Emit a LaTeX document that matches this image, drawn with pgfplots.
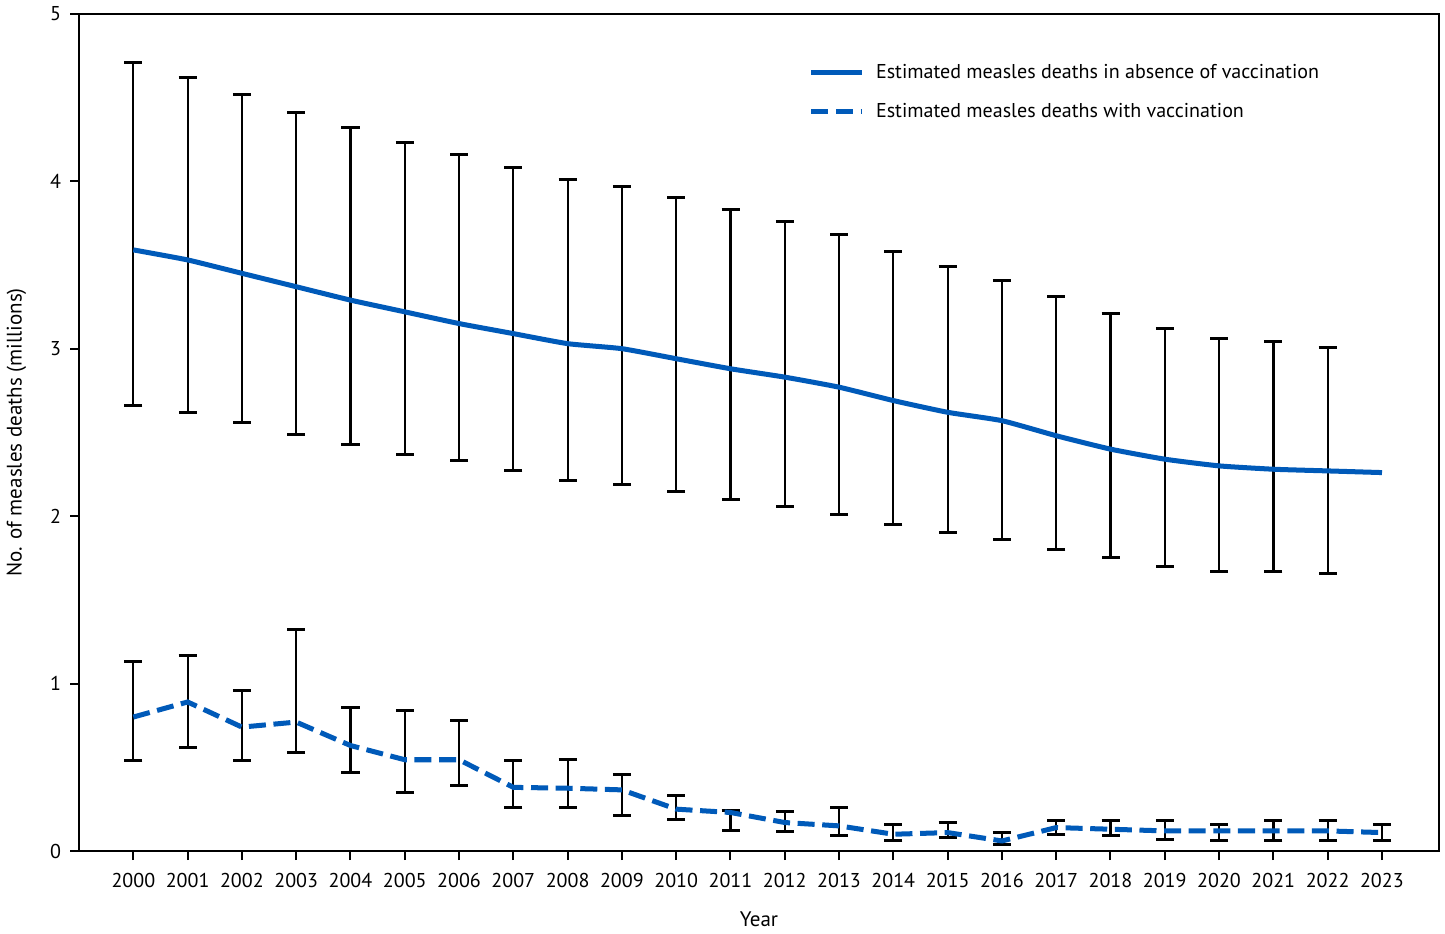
\documentclass[border=0pt]{standalone}
\usepackage{fontspec}
\setmainfont{PT Sans}
\usepackage{pgfplots}
\usepackage{pgfplotstable}
\pgfplotsset{compat=1.18}
\definecolor{cdcblue}{RGB}{0,90,185}
\pgfplotstableread{
x y lo hi
2000 3.59 2.66 4.71
2001 3.53 2.62 4.62
2002 3.45 2.56 4.52
2003 3.37 2.49 4.41
2004 3.29 2.43 4.32
2005 3.22 2.37 4.23
2006 3.15 2.33 4.16
2007 3.09 2.27 4.08
2008 3.03 2.21 4.01
2009 3.00 2.19 3.97
2010 2.94 2.15 3.90
2011 2.88 2.10 3.83
2012 2.83 2.06 3.76
2013 2.77 2.01 3.68
2014 2.69 1.95 3.58
2015 2.62 1.90 3.49
2016 2.57 1.86 3.41
2017 2.48 1.80 3.31
2018 2.40 1.75 3.21
2019 2.34 1.70 3.12
2020 2.30 1.67 3.06
2021 2.28 1.67 3.04
2022 2.27 1.66 3.01
2023 2.26 2.26 2.26
}\novacc
\pgfplotstableread{
x y lo hi
2000 0.80 0.54 1.13
2001 0.89 0.62 1.17
2002 0.74 0.54 0.96
2003 0.77 0.59 1.32
2004 0.63 0.47 0.855
2005 0.545 0.35 0.84
2006 0.545 0.39 0.78
2007 0.38 0.26 0.54
2008 0.375 0.26 0.545
2009 0.365 0.21 0.455
2010 0.25 0.19 0.33
2011 0.23 0.125 0.24
2012 0.17 0.115 0.235
2013 0.15 0.09 0.26
2014 0.10 0.065 0.16
2015 0.11 0.083 0.17
2016 0.06 0.037 0.113
2017 0.14 0.10 0.18
2018 0.13 0.095 0.18
2019 0.12 0.07 0.18
2020 0.12 0.06 0.16
2021 0.12 0.065 0.18
2022 0.12 0.065 0.185
2023 0.11 0.065 0.16
}\vacc
\begin{document}
\begin{tikzpicture}
\begin{axis}[
  scale only axis,
  width=679pt, height=418pt,
  xmin=1999.0, xmax=2024.05,
  ymin=0, ymax=5,
  xtick={2000,...,2023},
  ytick={0,1,2,3,4,5},
  xticklabel style={/pgf/number format/1000 sep={}, yshift=-3pt},
  yticklabel style={xshift=-1pt},
  /pgf/number format/assume math mode=true,
  tick label style={font=\fontsize{10}{12}\selectfont},
  label style={font=\fontsize{10.5}{12}\selectfont},
  tick align=outside,
  xtick pos=bottom, ytick pos=left,
  major tick length=4.5pt,
  tick style={black, line width=1pt},
  axis line style={black, line width=1pt},
  xlabel={Year},
  ylabel={No. of measles deaths (millions)},
  xlabel style={yshift=-5pt},
  ylabel style={yshift=5pt},
  legend style={draw=none, fill=none, at={(rel axis cs:0.532,0.95)}, anchor=north west,
    font=\fontsize{10}{12}\selectfont, row sep=7pt,
    /tikz/every odd column/.append style={column sep=4pt}},
  legend cell align=left,
  legend image code/.code={\draw[#1] (0pt,0pt) -- (25pt,0pt);},
]
\addplot[forget plot, draw=none, mark=none, skip coords between index={23}{24},
  error bars/.cd, y dir=both, y explicit,
  error bar style={draw=black, solid, line width=1.1pt},
  error mark options={draw=black, solid, line width=1.5pt, mark size=4.5pt, rotate=90}]
  table[x=x, y=y, y error plus expr=\thisrow{hi}-\thisrow{y}, y error minus expr=\thisrow{y}-\thisrow{lo}] {\novacc};
\addplot[forget plot, draw=none, mark=none,
  error bars/.cd, y dir=both, y explicit,
  error bar style={draw=black, solid, line width=1.1pt},
  error mark options={draw=black, solid, line width=1.5pt, mark size=4.5pt, rotate=90}]
  table[x=x, y=y, y error plus expr=\thisrow{hi}-\thisrow{y}, y error minus expr=\thisrow{y}-\thisrow{lo}] {\vacc};
\addplot[cdcblue, line width=2.5pt, smooth, tension=0.3, mark=none] table[x=x, y=y] {\novacc};
\addlegendentry{Estimated measles deaths in absence of vaccination}
\addplot[cdcblue, line width=2.5pt, dash pattern=on 8.5pt off 3.8pt, mark=none] table[x=x, y=y] {\vacc};
\addlegendentry{Estimated measles deaths with vaccination}
\end{axis}
\path (current axis.outer east) ++(2.5pt,0) coordinate (padR);
\end{tikzpicture}
\end{document}
